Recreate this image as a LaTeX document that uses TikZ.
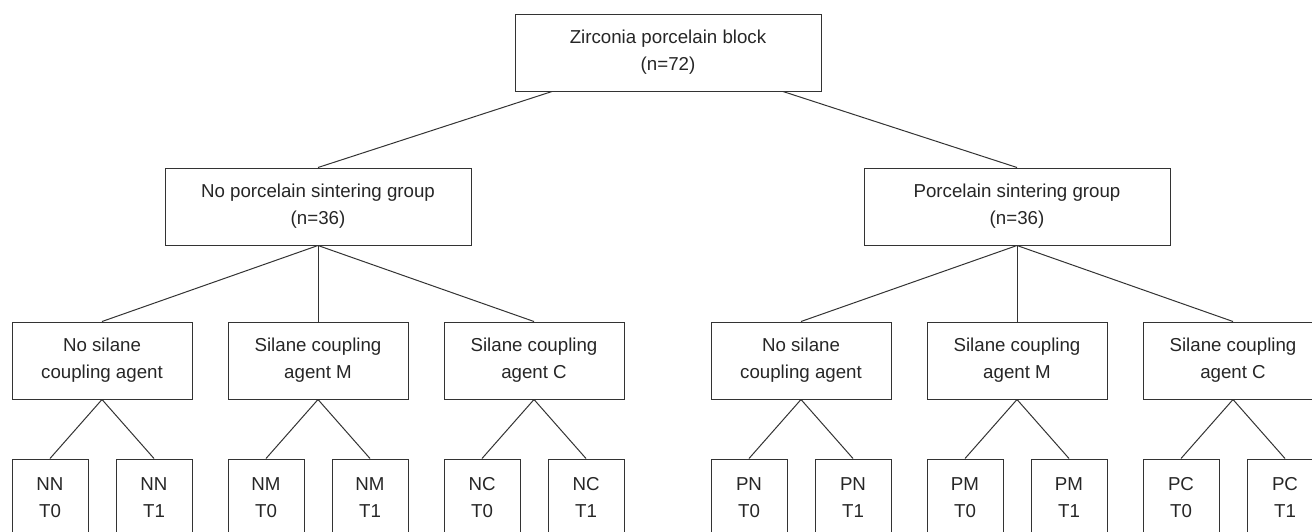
\documentclass[tikz,border=0pt]{standalone}
\usepackage{fontspec}
\setmainfont{Liberation Sans}
\begin{document}
\begin{tikzpicture}[x=1pt,y=-1pt,
  box/.style={draw=black!80, line width=1pt, inner sep=0pt, align=center,
    font=\fontsize{18.7}{27}\selectfont, text=black!85},
  big/.style={box, minimum width=306pt, minimum height=77pt},
  mid/.style={box, minimum width=180pt, minimum height=77pt},
  leaf/.style={box, minimum width=76pt, minimum height=77pt},
  link/.style={draw=black!80, line width=1pt}]
\useasboundingbox (0,0) rectangle (1312,531);
\clip (0,0) rectangle (1312,531);
% top
\node[big] (top) at (668,52.5) {Zirconia porcelain block\\(n=72)};
% level 2
\node[big] (L) at (318,206.5) {No porcelain sintering group\\(n=36)};
\node[big] (R) at (1017,206.5) {Porcelain sintering group\\(n=36)};
% level 3
\node[mid] (LN) at (102,360.5) {No silane\\coupling agent};
\node[mid] (LM) at (318,360.5) {Silane coupling\\agent M};
\node[mid] (LC) at (534,360.5) {Silane coupling\\agent C};
\node[mid] (RN) at (801,360.5) {No silane\\coupling agent};
\node[mid] (RM) at (1017,360.5) {Silane coupling\\agent M};
\node[mid] (RC) at (1233,360.5) {Silane coupling\\agent C};
% leaves
\node[leaf] (NN0) at (50,497.5) {NN\\T0};
\node[leaf] (NN1) at (154,497.5) {NN\\T1};
\node[leaf] (NM0) at (266,497.5) {NM\\T0};
\node[leaf] (NM1) at (370,497.5) {NM\\T1};
\node[leaf] (NC0) at (482,497.5) {NC\\T0};
\node[leaf] (NC1) at (586,497.5) {NC\\T1};
\node[leaf] (PN0) at (749,497.5) {PN\\T0};
\node[leaf] (PN1) at (853,497.5) {PN\\T1};
\node[leaf] (PM0) at (965,497.5) {PM\\T0};
\node[leaf] (PM1) at (1069,497.5) {PM\\T1};
\node[leaf] (PC0) at (1181,497.5) {PC\\T0};
\node[leaf] (PC1) at (1285,497.5) {PC\\T1};
% connectors
\draw[link] ([xshift=-116pt]top.south) -- (L.north);
\draw[link] ([xshift=115pt]top.south) -- (R.north);
\foreach \p/\c in {L/LN, L/LM, L/LC, R/RN, R/RM, R/RC,
  LN/NN0, LN/NN1, LM/NM0, LM/NM1, LC/NC0, LC/NC1,
  RN/PN0, RN/PN1, RM/PM0, RM/PM1, RC/PC0, RC/PC1}
  \draw[link] (\p.south) -- (\c.north);
\end{tikzpicture}
\end{document}
